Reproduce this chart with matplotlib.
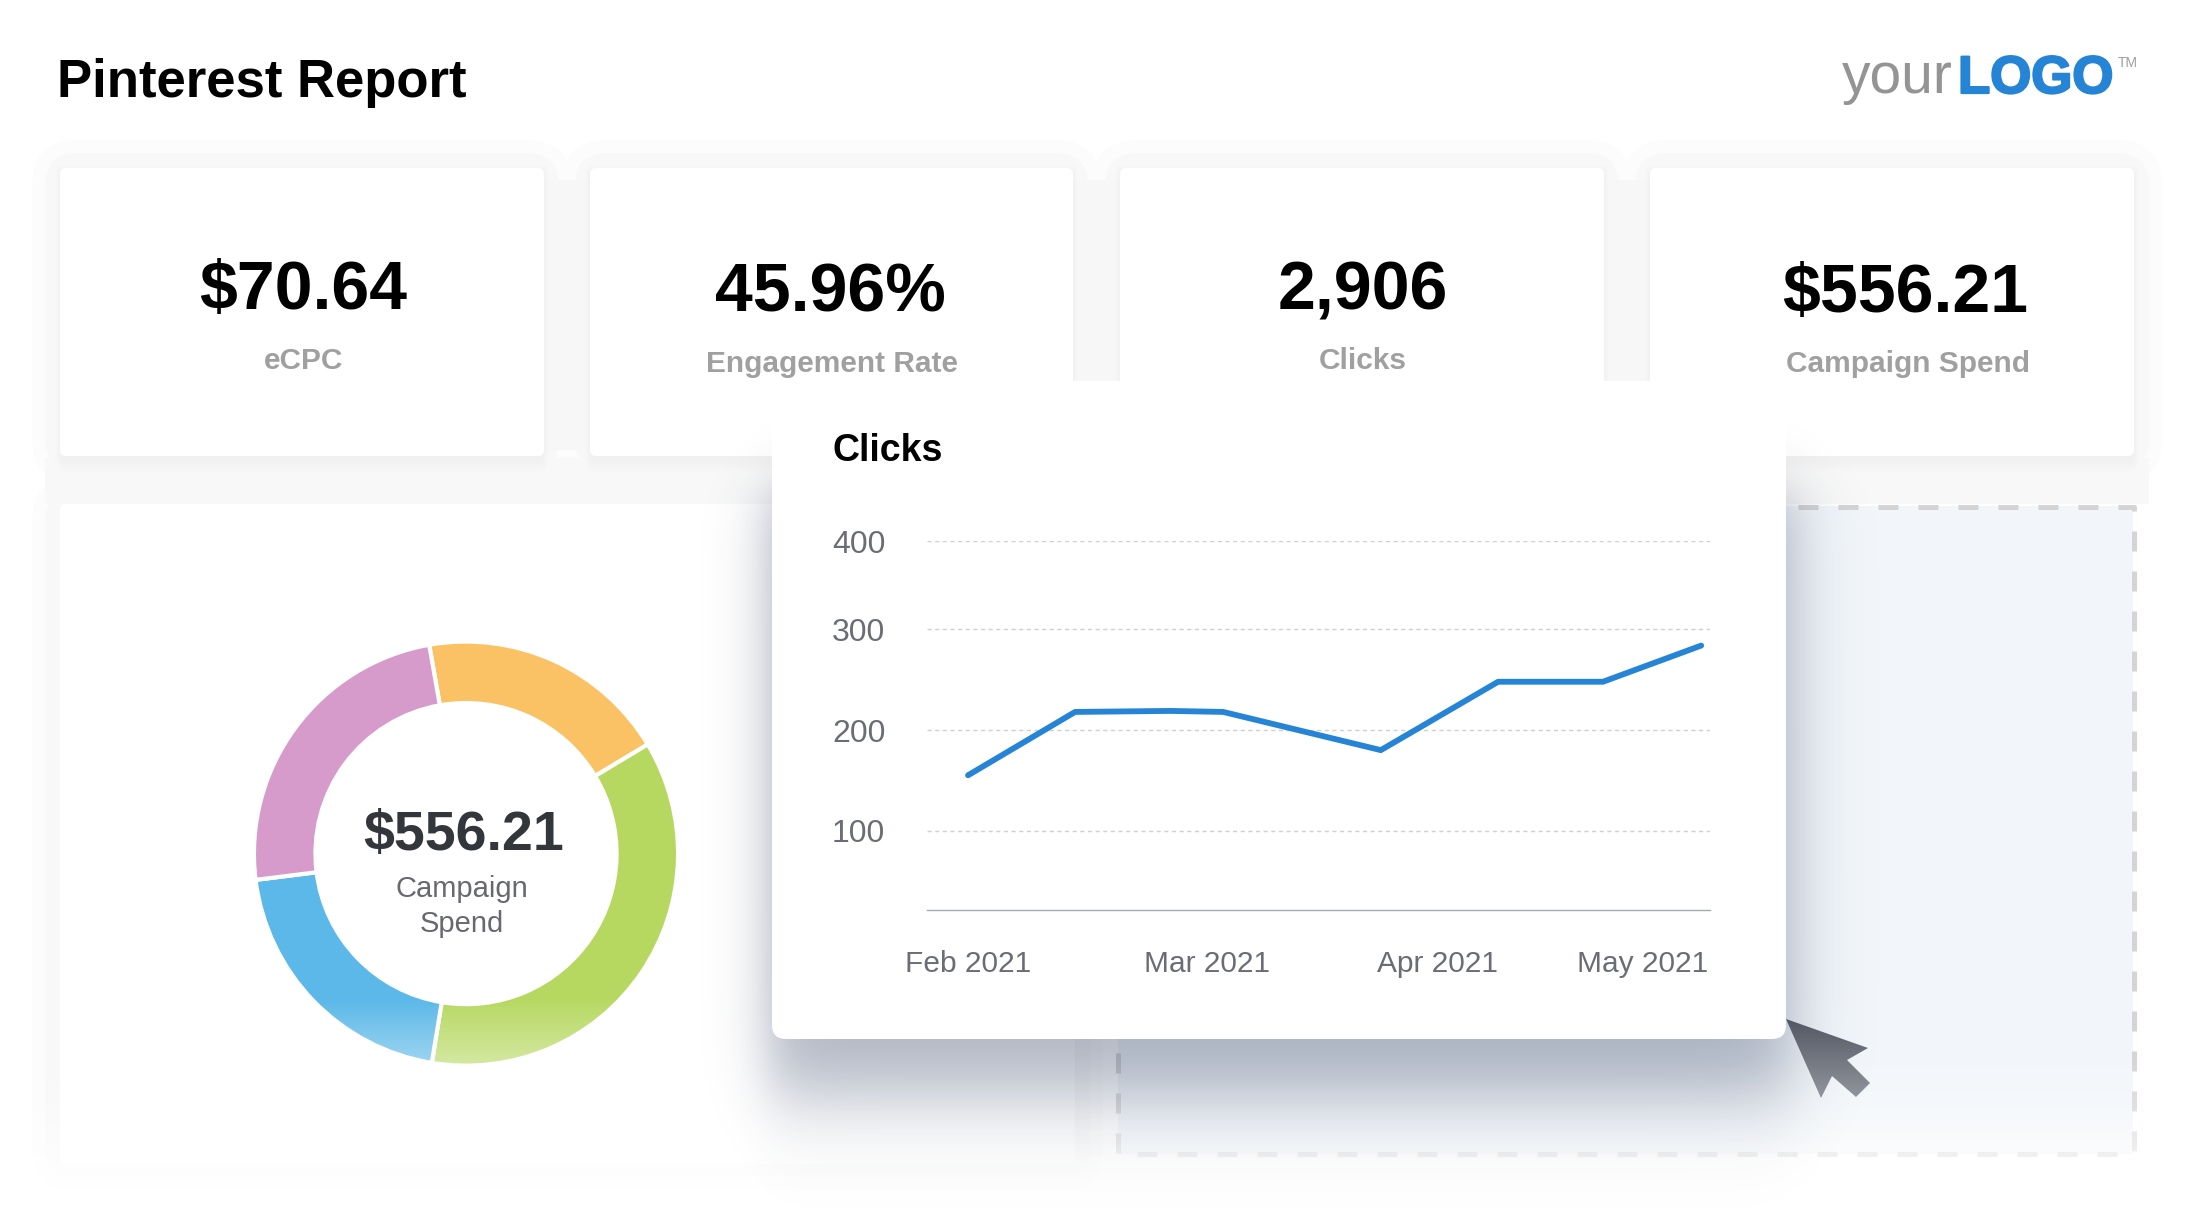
import numpy as np
import matplotlib
matplotlib.use("Agg")
import matplotlib.pyplot as plt
import matplotlib.patheffects as pe
from matplotlib.patches import FancyBboxPatch, Rectangle, Polygon

plt.rcParams["font.family"] = ["Liberation Sans", "DejaVu Sans"]

# numbers on the four top cards
card_values = ["$70.64", "45.96%", "2,906", "$556.21"]
card_labels = ["eCPC", "Engagement Rate", "Clicks", "Campaign Spend"]

# donut, campaign spend split
spend_values = [106.6, 201.3, 113.7, 134.6]
spend_colors = ["#fac264", "#b6d861", "#5bb8e8", "#d79bcb"]

# clicks line. x is just the position along the axis, the source has no readable dates
clicks_x = [0, 1.46, 2.76, 3.48, 5.63, 7.23, 8.66, 10.0]
clicks_y = [155, 218, 219, 218, 180, 248, 248, 284]
month_pos = [0, 3.26, 6.4, 9.2]
month_labels = ["Feb 2021", "Mar 2021", "Apr 2021", "May 2021"]
y_ticks = [100, 200, 300, 400]

W, H = 2200, 1230
fig = plt.figure(figsize=(22, 12.3), dpi=100, facecolor="white")

# everything that is not a chart goes on one axes in pixel coords
bg = fig.add_axes([0, 0, 1, 1])
bg.set_xlim(0, W)
bg.set_ylim(H, 0)
bg.axis("off")
bg.set_autoscale_on(False)

yy, xx = np.mgrid[0:H, 0:W] + 0.5


def soft(t, w):
    return 0.5 * (1 + np.tanh(t / w))


cards = [(60, 168, 484, 288), (590, 168, 483, 288), (1120, 168, 484, 288),
         (1650, 168, 484, 288), (60, 504, 1015, 660)]

# soft grey halos round the cards
for pad, col in [(28, "#fcfcfc"), (15, "#f8f8f8")]:
    for x, y, w, h in cards:
        bg.add_patch(FancyBboxPatch((x, y), w, h, boxstyle=f"round,pad={pad},rounding_size={pad + 18}",
                                    fc=col, ec="none", zorder=1))
# gaps between the cards read as one grey area
for x in [544, 1073, 1604]:
    bg.add_patch(Rectangle((x, 180), 46, 270, fc="#f7f7f7", ec="none", zorder=1.2))
bg.add_patch(Rectangle((45, 458), 2104, 46, fc="#f8f8f8", ec="none", zorder=1.2))

# small drop shadow under the top cards
drop = np.zeros((H, W, 4))
for x, y, w, h in cards[:4]:
    drop[..., 3] += 0.035 * soft(xx - x + 2, 3) * soft(x + w + 2 - xx, 3) * soft(yy - y, 3) * soft(y + h + 10 - yy, 7)
bg.imshow(drop, extent=(0, W, H, 0), aspect="auto", zorder=1.5)

for x, y, w, h in cards:
    bg.add_patch(FancyBboxPatch((x, y), w, h, boxstyle="round,pad=0,rounding_size=6",
                                fc="white", ec="none", zorder=2))

# dashed placeholder box
bg.add_patch(Rectangle((1118, 506), 1015, 648, fc="#f2f6fa", ec="none", zorder=2.5))
bg.plot([1118, 2134, 2134, 1118, 1118], [507, 507, 1154, 1154, 507], color="#d4d4d4", lw=3.6,
        dashes=(4, 4), zorder=2.6)

# lower part of the dashboard fades out to white
fade = np.ones((H, W, 4))
fade[..., 3] = np.clip((yy - 1040) / 150, 0, 1) ** 1.5
bg.imshow(fade, extent=(0, W, H, 0), aspect="auto", zorder=3)

# big shadow under the clicks panel
shadow = np.zeros((H, W, 4))
shadow[..., 0] = 43 / 255
shadow[..., 1] = 58 / 255
shadow[..., 2] = 92 / 255
shadow[..., 3] = 0.38 * soft(xx - 768, 30) * soft(1792 - xx, 38) * soft(yy - 490, 35) * soft(1095 - yy, 50)
bg.imshow(shadow, extent=(0, W, H, 0), aspect="auto", zorder=4)

# clicks panel, square on top and round at the bottom
bg.add_patch(FancyBboxPatch((772, 381), 1014, 658, boxstyle="round,pad=0,rounding_size=14",
                            fc="white", ec="none", zorder=6))
bg.add_patch(Rectangle((772, 381), 1014, 100, fc="white", ec="none", zorder=6))

# cursor
cursor = Polygon([(1786, 1019), (1868, 1048), (1847, 1060), (1870, 1083), (1856, 1097), (1832, 1076), (1821, 1098)],
                 closed=True, transform=bg.transData, fc="none", ec="none")
bg.add_patch(cursor)
grad = np.linspace(0, 1, 80).reshape(-1, 1)
cur = bg.imshow(grad, cmap=matplotlib.colors.LinearSegmentedColormap.from_list("cur", ["#4f5561", "#93969d"]),
                extent=(1780, 1875, 1100, 1015), aspect="auto", zorder=7)
cur.set_clip_path(cursor)

# header
bg.text(57, 97, "Pinterest Report", fontsize=38, fontweight="bold", color="#000000", ha="left", va="baseline", zorder=8)
bg.text(1842, 93, "your", fontsize=41, color="#949494", ha="left", va="baseline", zorder=8)
bg.text(1958, 93, "LOGO", fontsize=38, fontweight="bold", color="#2684d6", ha="left", va="baseline", zorder=8,
        path_effects=[pe.withStroke(linewidth=1.6, foreground="#2684d6")])
bg.text(2118, 67, "TM", fontsize=10, color="#a0a0a0", ha="left", va="baseline", zorder=8)

# card texts
value_pos = [(303, 291), (830, 294), (1363, 291), (1905, 294)]
label_pos = [(304, 361), (832, 364), (1363, 361), (1908, 364)]
for i in range(4):
    bg.text(value_pos[i][0], value_pos[i][1], card_values[i], fontsize=49, fontweight="bold", color="#000000",
            ha="center", va="center", zorder=5)
    bg.text(label_pos[i][0], label_pos[i][1], card_labels[i], fontsize=21.5, fontweight="bold", color="#a0a0a0",
            ha="center", va="center", zorder=5)

bg.text(833, 451, "Clicks", fontsize=27, fontweight="bold", color="#000000", ha="left", va="center", zorder=8)

# donut
cx, cy, r = 466, 853.6, 211
don = fig.add_axes([(cx - r) / W, 1 - (cy + r) / H, 2 * r / W, 2 * r / H], zorder=2)
don.pie(spend_values, colors=spend_colors, startangle=100, counterclock=False, radius=1.0,
        wedgeprops={"width": 0.29, "edgecolor": "white", "linewidth": 3})
light = np.ones((60, 2, 4))
light[..., 3] = np.linspace(0.42, 0, 60).reshape(-1, 1)
don.imshow(light, extent=(-1, 1, -1, -0.68), aspect="auto", zorder=5, origin="lower")
don.set_xlim(-0.995, 0.995)
don.set_ylim(-0.995, 0.995)
don.axis("off")
don.text(-0.01, 0.085, "$556.21", fontsize=40, fontweight="bold", color="#33363b", ha="center", va="center")
don.text(-0.02, -0.25, "Campaign\nSpend", fontsize=21, color="#67696e", ha="center", va="center", linespacing=1.33)

# line chart
ax = fig.add_axes([927 / W, 1 - 910 / H, (1710 - 927) / W, (910 - 541) / H], zorder=3)
ax.patch.set_alpha(0)

# the gap between 300 and 400 is narrower than the others in the source
scale_from = [0, 300, 400, 1000]
scale_to = [0, 300, 388, 988]
ax.set_yscale("function", functions=(lambda v: np.interp(v, scale_from, scale_to),
                                     lambda v: np.interp(v, scale_to, scale_from)))
ax.set_ylim(21, 400)
ax.set_xlim(-0.56, 10.12)
ax.plot(clicks_x, clicks_y, color="#2684d6", lw=4.2, solid_capstyle="round", solid_joinstyle="round", zorder=3)
ax.set_yticks(y_ticks)
ax.set_xticks(month_pos)
ax.set_xticklabels(month_labels)
ax.yaxis.set_major_formatter(matplotlib.ticker.FormatStrFormatter("%d"))
ax.yaxis.set_minor_locator(matplotlib.ticker.NullLocator())
ax.grid(axis="y", color="#cfd0d2", lw=1, dashes=(3, 2.5))
ax.grid(axis="x", visible=False)
ax.tick_params(axis="x", length=0, labelsize=21.5, labelcolor="#6a6d73", pad=28.5)
ax.tick_params(axis="y", length=0, labelsize=23, labelcolor="#6a6d73", pad=30)
for s in ["top", "left", "right"]:
    ax.spines[s].set_visible(False)
ax.spines["bottom"].set_color("#a8aaae")
ax.spines["bottom"].set_linewidth(1)

fig.savefig("out.png", dpi=100, facecolor="white")
